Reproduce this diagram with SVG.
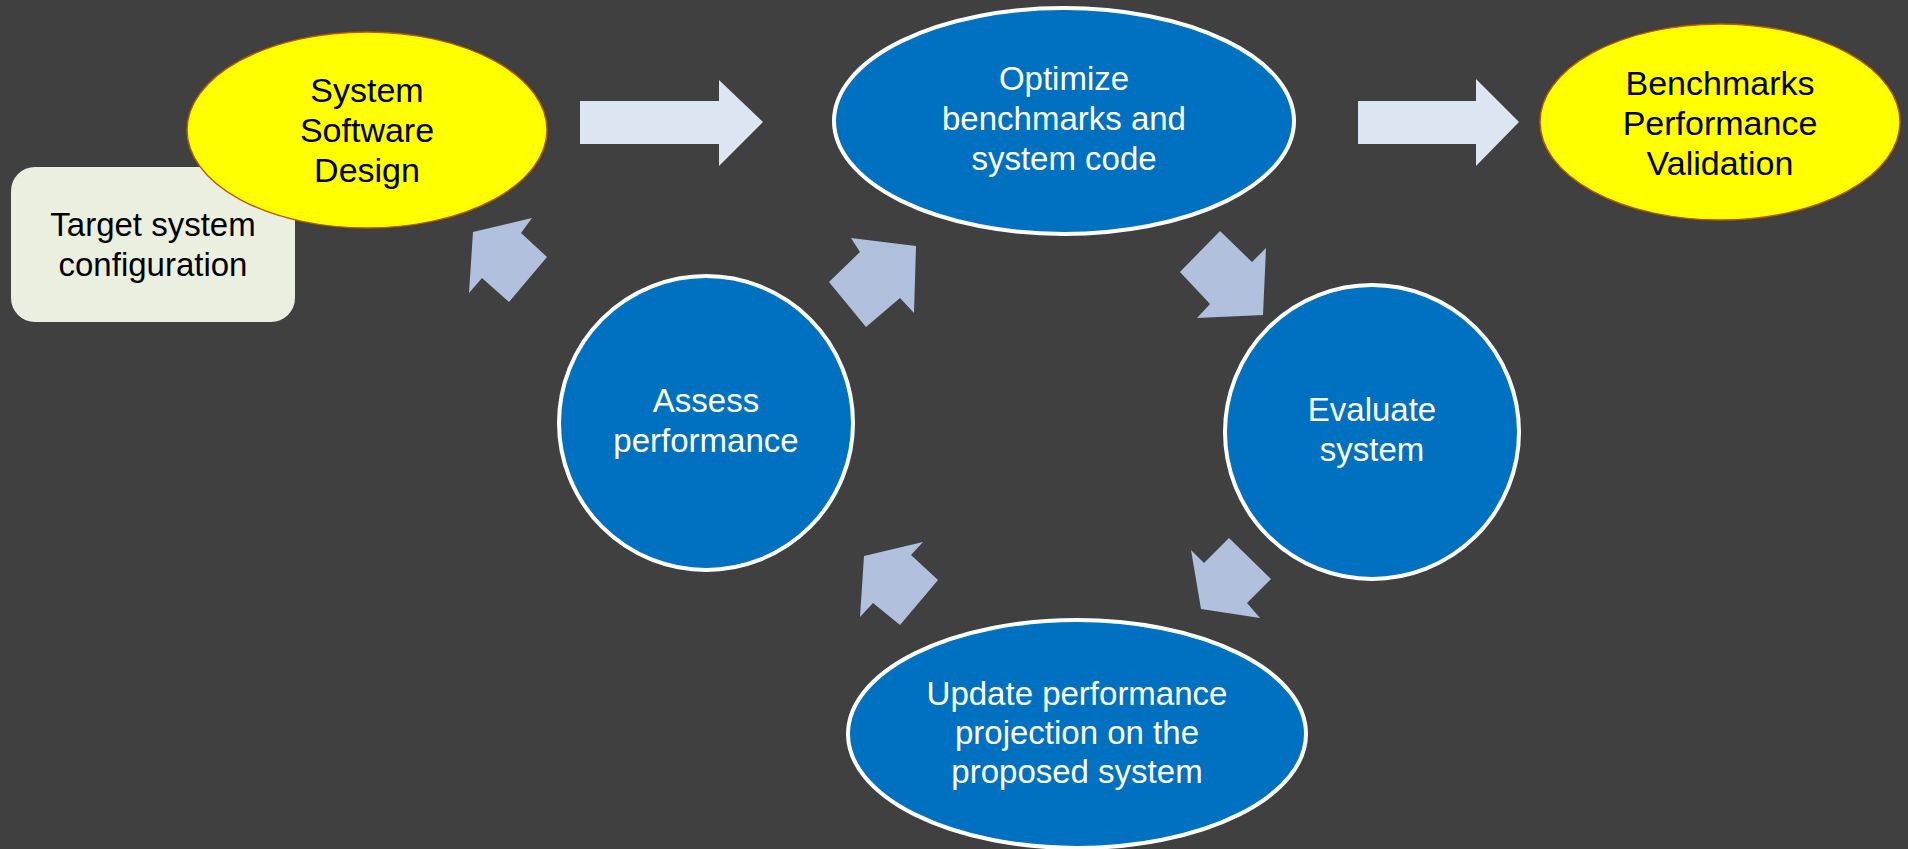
<svg xmlns="http://www.w3.org/2000/svg" width="1908" height="849" viewBox="0 0 1908 849">
  <style>
    .bg { fill: #404040; }
    .step { fill: #0070C0; stroke: #FFFFFF; stroke-width: 4; }
    .goal { fill: #FFFF00; stroke: #B85A0A; stroke-width: 1.5; }
    .note { fill: #EBEFDF; }
    .flow { fill: #DCE6F2; }
    .cycle { fill: #B1C1DD; }
    .lbl-w { font-family: "Liberation Sans", Arial, sans-serif; font-size: 33px; fill: #FFFFFF; text-anchor: middle; }
    .lbl-k { font-family: "Liberation Sans", Arial, sans-serif; font-size: 33px; fill: #000000; text-anchor: middle; }
    .lbl-y { font-family: "Liberation Sans", Arial, sans-serif; font-size: 34px; fill: #000000; text-anchor: middle; }
  </style>

  <rect class="bg" x="0" y="0" width="1908" height="849"/>

  <!-- connectors: straight flow arrows and the cycle arrows between steps -->
  <g id="connectors">
    <polygon class="flow" points="580,101 719,101 719,80 763,122 719,166 719,144 580,144"/>
    <polygon class="flow" points="1358,101 1476,101 1476,79 1519,122 1476,166 1476,144 1358,144"/>
    <polygon class="cycle" points="1220,231 1252,262 1266,248 1263,315 1197,318 1210,304 1180,272"/>
    <polygon class="cycle" points="1229,538 1271,579 1247,603 1260,618 1201,609 1191,550 1204,563"/>
    <polygon class="cycle" points="923,542 911,555 938,580 900,625 873,603 860,617 864,556"/>
    <polygon class="cycle" points="851,238 916,246 914,313 900,298 866,327 829,282 860,252"/>
    <polygon class="cycle" points="532,218 521,233 547,257 509,302 482,278 469,293 473,232"/>
  </g>

  <g id="target-config">
    <rect class="note" x="11" y="167" width="284" height="155" rx="24" ry="24"/>
    <text class="lbl-k" x="153" y="236">Target system</text>
    <text class="lbl-k" x="153" y="276">configuration</text>
  </g>

  <g id="system-software-design">
    <ellipse class="goal" cx="367" cy="130" rx="180" ry="98"/>
    <text class="lbl-y" x="367" y="102">System</text>
    <text class="lbl-y" x="367" y="142">Software</text>
    <text class="lbl-y" x="367" y="182">Design</text>
  </g>

  <g id="optimize">
    <ellipse class="step" cx="1064" cy="121" rx="230" ry="113"/>
    <text class="lbl-w" x="1064" y="90">Optimize</text>
    <text class="lbl-w" x="1064" y="130">benchmarks and</text>
    <text class="lbl-w" x="1064" y="170">system code</text>
  </g>

  <g id="benchmarks-validation">
    <ellipse class="goal" cx="1720" cy="122" rx="180" ry="98"/>
    <text class="lbl-y" x="1720" y="95">Benchmarks</text>
    <text class="lbl-y" x="1720" y="135">Performance</text>
    <text class="lbl-y" x="1720" y="175">Validation</text>
  </g>

  <g id="evaluate">
    <ellipse class="step" cx="1372" cy="432" rx="147" ry="147"/>
    <text class="lbl-w" x="1372" y="421">Evaluate</text>
    <text class="lbl-w" x="1372" y="461">system</text>
  </g>

  <g id="update-projection">
    <ellipse class="step" cx="1077" cy="734" rx="229" ry="114"/>
    <text class="lbl-w" x="1077" y="705">Update performance</text>
    <text class="lbl-w" x="1077" y="744">projection on the</text>
    <text class="lbl-w" x="1077" y="783">proposed system</text>
  </g>

  <g id="assess">
    <ellipse class="step" cx="706" cy="423" rx="147" ry="147"/>
    <text class="lbl-w" x="706" y="412">Assess</text>
    <text class="lbl-w" x="706" y="452">performance</text>
  </g>
</svg>
